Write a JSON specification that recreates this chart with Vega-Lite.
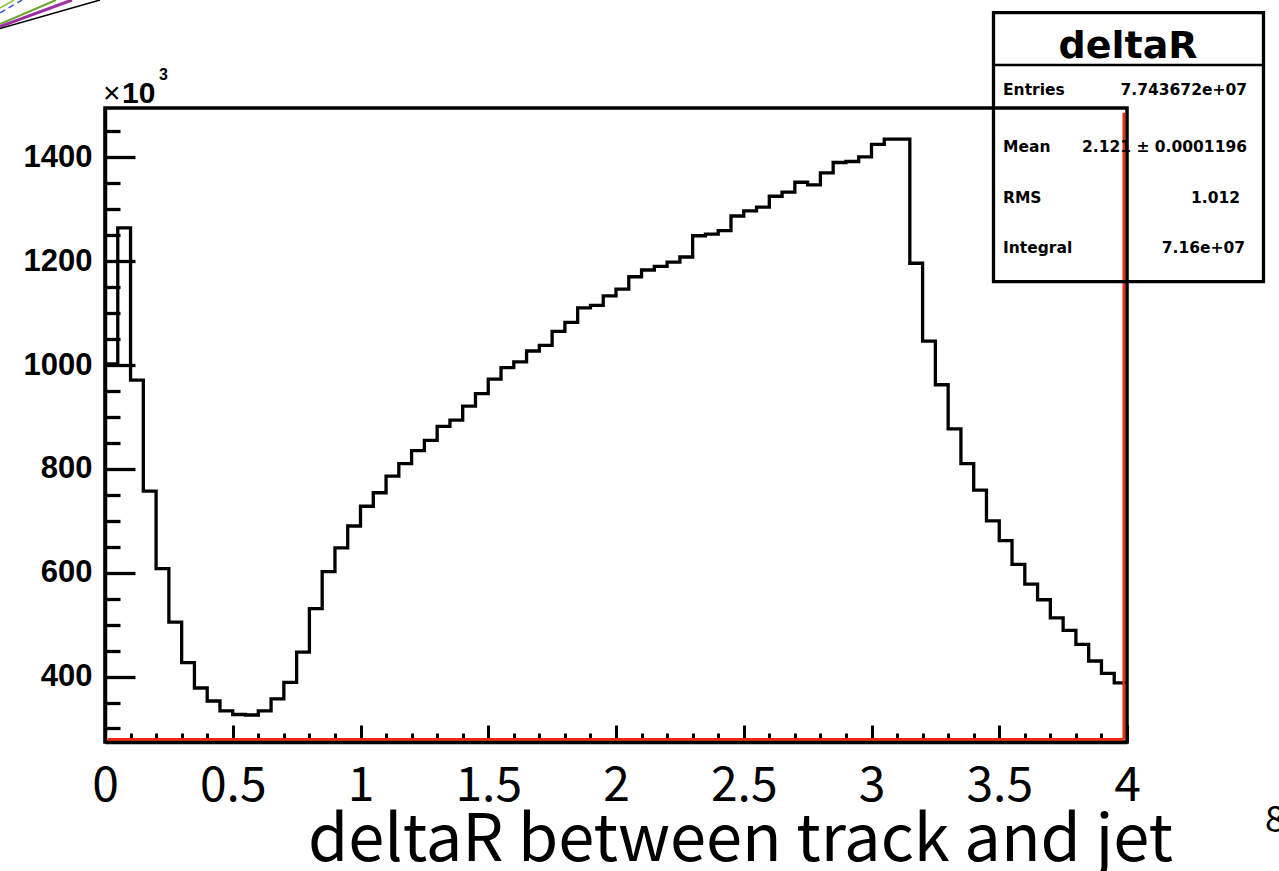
{
  "$schema": "https://vega.github.io/schema/vega-lite/v6.json",
  "width": 1022,
  "height": 634,
  "autosize": {"type": "none"},
  "padding": {"left": 105, "top": 108, "right": 152, "bottom": 129},
  "background": "white",
  "config": {
    "view": {"stroke": "black", "strokeWidth": 3.5},
    "axis": {"grid": false}
  },
  "resolve": {"axis": {"x": "independent", "y": "independent"}},
  "layer": [
    {
      "data": {
        "values": [
          {"lo": 0, "hi": 0.05, "n": 1002}, {"lo": 0.05, "hi": 0.1, "n": 1264},
          {"lo": 0.1, "hi": 0.15, "n": 971}, {"lo": 0.15, "hi": 0.2, "n": 757},
          {"lo": 0.2, "hi": 0.25, "n": 608}, {"lo": 0.25, "hi": 0.3, "n": 505},
          {"lo": 0.3, "hi": 0.35, "n": 427}, {"lo": 0.35, "hi": 0.4, "n": 378},
          {"lo": 0.4, "hi": 0.45, "n": 353}, {"lo": 0.45, "hi": 0.5, "n": 334},
          {"lo": 0.5, "hi": 0.55, "n": 327}, {"lo": 0.55, "hi": 0.6, "n": 326},
          {"lo": 0.6, "hi": 0.65, "n": 334}, {"lo": 0.65, "hi": 0.7, "n": 357},
          {"lo": 0.7, "hi": 0.75, "n": 389}, {"lo": 0.75, "hi": 0.8, "n": 447},
          {"lo": 0.8, "hi": 0.85, "n": 531}, {"lo": 0.85, "hi": 0.9, "n": 602},
          {"lo": 0.9, "hi": 0.95, "n": 648}, {"lo": 0.95, "hi": 1, "n": 690},
          {"lo": 1, "hi": 1.05, "n": 728}, {"lo": 1.05, "hi": 1.1, "n": 754},
          {"lo": 1.1, "hi": 1.15, "n": 786}, {"lo": 1.15, "hi": 1.2, "n": 810},
          {"lo": 1.2, "hi": 1.25, "n": 835}, {"lo": 1.25, "hi": 1.3, "n": 855},
          {"lo": 1.3, "hi": 1.35, "n": 882}, {"lo": 1.35, "hi": 1.4, "n": 894},
          {"lo": 1.4, "hi": 1.45, "n": 921}, {"lo": 1.45, "hi": 1.5, "n": 945},
          {"lo": 1.5, "hi": 1.55, "n": 973}, {"lo": 1.55, "hi": 1.6, "n": 995},
          {"lo": 1.6, "hi": 1.65, "n": 1006}, {"lo": 1.65, "hi": 1.7, "n": 1027},
          {"lo": 1.7, "hi": 1.75, "n": 1038}, {"lo": 1.75, "hi": 1.8, "n": 1065},
          {"lo": 1.8, "hi": 1.85, "n": 1082}, {"lo": 1.85, "hi": 1.9, "n": 1110},
          {"lo": 1.9, "hi": 1.95, "n": 1115}, {"lo": 1.95, "hi": 2, "n": 1133},
          {"lo": 2, "hi": 2.05, "n": 1146}, {"lo": 2.05, "hi": 2.1, "n": 1170},
          {"lo": 2.1, "hi": 2.15, "n": 1183}, {"lo": 2.15, "hi": 2.2, "n": 1190},
          {"lo": 2.2, "hi": 2.25, "n": 1198}, {"lo": 2.25, "hi": 2.3, "n": 1208},
          {"lo": 2.3, "hi": 2.35, "n": 1249}, {"lo": 2.35, "hi": 2.4, "n": 1252},
          {"lo": 2.4, "hi": 2.45, "n": 1259}, {"lo": 2.45, "hi": 2.5, "n": 1287},
          {"lo": 2.5, "hi": 2.55, "n": 1297}, {"lo": 2.55, "hi": 2.6, "n": 1304},
          {"lo": 2.6, "hi": 2.65, "n": 1325}, {"lo": 2.65, "hi": 2.7, "n": 1333},
          {"lo": 2.7, "hi": 2.75, "n": 1352}, {"lo": 2.75, "hi": 2.8, "n": 1347},
          {"lo": 2.8, "hi": 2.85, "n": 1370}, {"lo": 2.85, "hi": 2.9, "n": 1390},
          {"lo": 2.9, "hi": 2.95, "n": 1392}, {"lo": 2.95, "hi": 3, "n": 1401},
          {"lo": 3, "hi": 3.05, "n": 1425}, {"lo": 3.05, "hi": 3.1, "n": 1435},
          {"lo": 3.1, "hi": 3.15, "n": 1435}, {"lo": 3.15, "hi": 3.2, "n": 1196},
          {"lo": 3.2, "hi": 3.25, "n": 1046}, {"lo": 3.25, "hi": 3.3, "n": 962},
          {"lo": 3.3, "hi": 3.35, "n": 877}, {"lo": 3.35, "hi": 3.4, "n": 810},
          {"lo": 3.4, "hi": 3.45, "n": 759}, {"lo": 3.45, "hi": 3.5, "n": 700},
          {"lo": 3.5, "hi": 3.55, "n": 662}, {"lo": 3.55, "hi": 3.6, "n": 616},
          {"lo": 3.6, "hi": 3.65, "n": 578}, {"lo": 3.65, "hi": 3.7, "n": 548},
          {"lo": 3.7, "hi": 3.75, "n": 513}, {"lo": 3.75, "hi": 3.8, "n": 489},
          {"lo": 3.8, "hi": 3.85, "n": 462}, {"lo": 3.85, "hi": 3.9, "n": 430},
          {"lo": 3.9, "hi": 3.95, "n": 406}, {"lo": 3.95, "hi": 4, "n": 388}
        ]
      },
      "transform": [{"fold": ["lo", "hi"], "as": ["edge", "x"]}],
      "mark": {"type": "line", "color": "black", "strokeWidth": 3.3, "strokeJoin": "miter", "strokeCap": "butt"},
      "encoding": {
        "x": {
          "field": "x",
          "type": "quantitative",
          "scale": {"domain": [0, 4], "nice": false, "zero": false},
          "axis": {
            "values": [0, 0.1, 0.2, 0.3, 0.4, 0.5, 0.6, 0.7, 0.8, 0.9, 1, 1.1, 1.2, 1.3, 1.4, 1.5, 1.6, 1.7, 1.8, 1.9, 2, 2.1, 2.2, 2.3, 2.4, 2.5, 2.6, 2.7, 2.8, 2.9, 3, 3.1, 3.2, 3.3, 3.4, 3.5, 3.6, 3.7, 3.8, 3.9, 4],
            "labelExpr": "abs(datum.value * 2 - round(datum.value * 2)) < 0.001 ? format(datum.value, '~g') : ''",
            "tickSize": {"condition": {"test": "abs(datum.value * 2 - round(datum.value * 2)) < 0.001", "value": -17}, "value": -9},
            "tickWidth": 3,
            "tickColor": "black",
            "domainColor": "black",
            "domainWidth": 3.5,
            "labelFont": "Noto Sans CJK JP",
            "labelFontSize": 48,
            "labelFontWeight": "normal",
            "labelColor": "black",
            "labelBaseline": "alphabetic",
            "labelPadding": 75,
            "labelFlush": false,
            "labelOverlap": false,
            "labelBound": false,
            "title": "deltaR between track and jet",
            "titleFont": "Noto Sans CJK JP",
            "titleFontSize": 65,
            "titleFontWeight": "normal",
            "titleColor": "black",
            "titleX": 635,
            "titleY": 118,
            "titleAlign": "center",
            "titleBaseline": "alphabetic"
          }
        },
        "y": {
          "field": "n",
          "type": "quantitative",
          "scale": {"domain": [274, 1495], "nice": false, "zero": false},
          "axis": {
            "values": [300, 350, 400, 450, 500, 550, 600, 650, 700, 750, 800, 850, 900, 950, 1000, 1050, 1100, 1150, 1200, 1250, 1300, 1350, 1400, 1450],
            "labelExpr": "datum.value % 200 === 0 ? format(datum.value, 'd') : ''",
            "tickSize": {"condition": {"test": "datum.value % 200 === 0", "value": -30}, "value": -15},
            "tickWidth": 3.3,
            "tickColor": "black",
            "domainColor": "black",
            "domainWidth": 3.5,
            "labelFont": "Liberation Sans",
            "labelFontWeight": "bold",
            "labelFontSize": 31,
            "labelColor": "black",
            "labelBaseline": "middle",
            "labelPadding": 43,
            "labelFlush": false,
            "labelOverlap": false,
            "labelBound": false,
            "title": null
          }
        },
        "order": [
          {"field": "x", "type": "quantitative"},
          {"field": "edge", "sort": "descending"}
        ]
      }
    },
    {
      "data": {"values": [{}]},
      "mark": {"type": "rule", "color": "#ee2a0c", "strokeWidth": 2.6},
      "encoding": {
        "x": {"datum": 0.01, "type": "quantitative", "axis": null},
        "x2": {"datum": 3.9875},
        "y": {"datum": 279, "type": "quantitative", "axis": null}
      }
    },
    {
      "data": {"values": [{}]},
      "mark": {"type": "rule", "color": "#ee2a0c", "strokeWidth": 2.6},
      "encoding": {
        "x": {"datum": 3.9875, "type": "quantitative", "axis": null},
        "y": {"datum": 279, "type": "quantitative", "axis": null},
        "y2": {"datum": 1486}
      }
    },
    {
      "data": {"values": [{}]},
      "mark": {"type": "rect", "fillOpacity": 0, "stroke": "black", "strokeWidth": 3.3},
      "encoding": {
        "x": {"datum": 3.4775, "type": "quantitative", "axis": null},
        "x2": {"datum": 4.5342},
        "y": {"datum": 1678.5, "type": "quantitative", "axis": null},
        "y2": {"datum": 1160.5}
      }
    },
    {
      "data": {"values": [{}]},
      "mark": {"type": "rule", "color": "black", "strokeWidth": 2.5},
      "encoding": {
        "x": {"datum": 3.4775, "type": "quantitative", "axis": null},
        "x2": {"datum": 4.5342},
        "y": {"datum": 1577.8, "type": "quantitative", "axis": null}
      }
    },
    {
      "data": {"values": [{}]},
      "mark": {"type": "text", "font": "DejaVu Sans", "fontWeight": "bold", "fontSize": 38, "align": "center", "baseline": "alphabetic", "color": "black"},
      "encoding": {
        "x": {"datum": 4.0039, "type": "quantitative", "axis": null},
        "y": {"datum": 1591.3, "type": "quantitative", "axis": null},
        "text": {"value": "deltaR"}
      }
    },
    {
      "data": {"values": [{"k": "Entries", "v": "7.743672e+07"}]},
      "mark": {"type": "text", "font": "DejaVu Sans", "fontWeight": "bold", "fontSize": 15.5, "align": "left", "baseline": "alphabetic", "color": "black"},
      "encoding": {"x": {"datum": 3.5147, "type": "quantitative", "axis": null}, "y": {"datum": 1520, "type": "quantitative", "axis": null}, "text": {"field": "k"}}
    },
    {
      "data": {"values": [{"k": "Entries", "v": "7.743672e+07"}]},
      "mark": {"type": "text", "font": "DejaVu Sans", "fontWeight": "bold", "fontSize": 15.5, "align": "right", "baseline": "alphabetic", "color": "black"},
      "encoding": {"x": {"datum": 4.4697, "type": "quantitative", "axis": null}, "y": {"datum": 1520, "type": "quantitative", "axis": null}, "text": {"field": "v"}}
    },
    {
      "data": {"values": [{"k": "Mean", "v": "2.121 ± 0.0001196"}]},
      "mark": {"type": "text", "font": "DejaVu Sans", "fontWeight": "bold", "fontSize": 15.5, "align": "left", "baseline": "alphabetic", "color": "black"},
      "encoding": {"x": {"datum": 3.5147, "type": "quantitative", "axis": null}, "y": {"datum": 1410.8, "type": "quantitative", "axis": null}, "text": {"field": "k"}}
    },
    {
      "data": {"values": [{"k": "Mean", "v": "2.121 ± 0.0001196"}]},
      "mark": {"type": "text", "font": "DejaVu Sans", "fontWeight": "bold", "fontSize": 15.5, "align": "right", "baseline": "alphabetic", "color": "black"},
      "encoding": {"x": {"datum": 4.4697, "type": "quantitative", "axis": null}, "y": {"datum": 1410.8, "type": "quantitative", "axis": null}, "text": {"field": "v"}}
    },
    {
      "data": {"values": [{"k": "RMS", "v": "1.012"}]},
      "mark": {"type": "text", "font": "DejaVu Sans", "fontWeight": "bold", "fontSize": 15.5, "align": "left", "baseline": "alphabetic", "color": "black"},
      "encoding": {"x": {"datum": 3.5147, "type": "quantitative", "axis": null}, "y": {"datum": 1311.5, "type": "quantitative", "axis": null}, "text": {"field": "k"}}
    },
    {
      "data": {"values": [{"k": "RMS", "v": "1.012"}]},
      "mark": {"type": "text", "font": "DejaVu Sans", "fontWeight": "bold", "fontSize": 15.5, "align": "right", "baseline": "alphabetic", "color": "black"},
      "encoding": {"x": {"datum": 4.4426, "type": "quantitative", "axis": null}, "y": {"datum": 1311.5, "type": "quantitative", "axis": null}, "text": {"field": "v"}}
    },
    {
      "data": {"values": [{"k": "Integral", "v": "7.16e+07"}]},
      "mark": {"type": "text", "font": "DejaVu Sans", "fontWeight": "bold", "fontSize": 15.5, "align": "left", "baseline": "alphabetic", "color": "black"},
      "encoding": {"x": {"datum": 3.5147, "type": "quantitative", "axis": null}, "y": {"datum": 1215.8, "type": "quantitative", "axis": null}, "text": {"field": "k"}}
    },
    {
      "data": {"values": [{"k": "Integral", "v": "7.16e+07"}]},
      "mark": {"type": "text", "font": "DejaVu Sans", "fontWeight": "bold", "fontSize": 15.5, "align": "right", "baseline": "alphabetic", "color": "black"},
      "encoding": {"x": {"datum": 4.4619, "type": "quantitative", "axis": null}, "y": {"datum": 1215.8, "type": "quantitative", "axis": null}, "text": {"field": "v"}}
    },
    {
      "data": {"values": [{}]},
      "mark": {"type": "text", "font": "Liberation Sans", "fontSize": 30, "align": "left", "baseline": "alphabetic", "color": "black"},
      "encoding": {"x": {"datum": -0.0078, "type": "quantitative", "axis": null}, "y": {"datum": 1504.6, "type": "quantitative", "axis": null}, "text": {"value": "×"}}
    },
    {
      "data": {"values": [{}]},
      "mark": {"type": "text", "font": "Liberation Sans", "fontWeight": "bold", "fontSize": 30, "align": "left", "baseline": "alphabetic", "color": "black"},
      "encoding": {"x": {"datum": 0.0665, "type": "quantitative", "axis": null}, "y": {"datum": 1504.6, "type": "quantitative", "axis": null}, "text": {"value": "10"}}
    },
    {
      "data": {"values": [{}]},
      "mark": {"type": "text", "font": "Liberation Sans", "fontWeight": "bold", "fontSize": 16, "align": "left", "baseline": "alphabetic", "color": "black"},
      "encoding": {"x": {"datum": 0.2114, "type": "quantitative", "axis": null}, "y": {"datum": 1548.9, "type": "quantitative", "axis": null}, "text": {"value": "3"}}
    },
    {
      "data": {"values": [{}]},
      "mark": {"type": "text", "font": "Noto Sans CJK JP", "fontSize": 36, "align": "left", "baseline": "alphabetic", "color": "black"},
      "encoding": {"x": {"datum": 4.54, "type": "quantitative", "axis": null}, "y": {"datum": 100.7, "type": "quantitative", "axis": null}, "text": {"value": "8"}}
    },
    {
      "data": {"values": [{}]},
      "mark": {"type": "rule", "color": "#8cc63f", "strokeWidth": 1.5},
      "encoding": {"x": {"datum": -0.411, "type": "quantitative", "axis": null}, "y": {"datum": 1687.6, "type": "quantitative", "axis": null}, "x2": {"datum": -0.3562}, "y2": {"datum": 1703}}
    },
    {
      "data": {"values": [{}]},
      "mark": {"type": "rule", "color": "#3355dd", "strokeWidth": 1.5, "strokeDash": [6, 4]},
      "encoding": {"x": {"datum": -0.411, "type": "quantitative", "axis": null}, "y": {"datum": 1678, "type": "quantitative", "axis": null}, "x2": {"datum": -0.3249}, "y2": {"datum": 1703}}
    },
    {
      "data": {"values": [{}]},
      "mark": {"type": "rule", "color": "#6aa52a", "strokeWidth": 2},
      "encoding": {"x": {"datum": -0.411, "type": "quantitative", "axis": null}, "y": {"datum": 1656.8, "type": "quantitative", "axis": null}, "x2": {"datum": -0.1918}, "y2": {"datum": 1703}}
    },
    {
      "data": {"values": [{}]},
      "mark": {"type": "rule", "color": "#9b2fa3", "strokeWidth": 3},
      "encoding": {"x": {"datum": -0.411, "type": "quantitative", "axis": null}, "y": {"datum": 1652, "type": "quantitative", "axis": null}, "x2": {"datum": -0.1292}, "y2": {"datum": 1703}}
    },
    {
      "data": {"values": [{}]},
      "mark": {"type": "rule", "color": "black", "strokeWidth": 1.5},
      "encoding": {"x": {"datum": -0.411, "type": "quantitative", "axis": null}, "y": {"datum": 1648.1, "type": "quantitative", "axis": null}, "x2": {"datum": -0.0196}, "y2": {"datum": 1703}}
    }
  ]
}
